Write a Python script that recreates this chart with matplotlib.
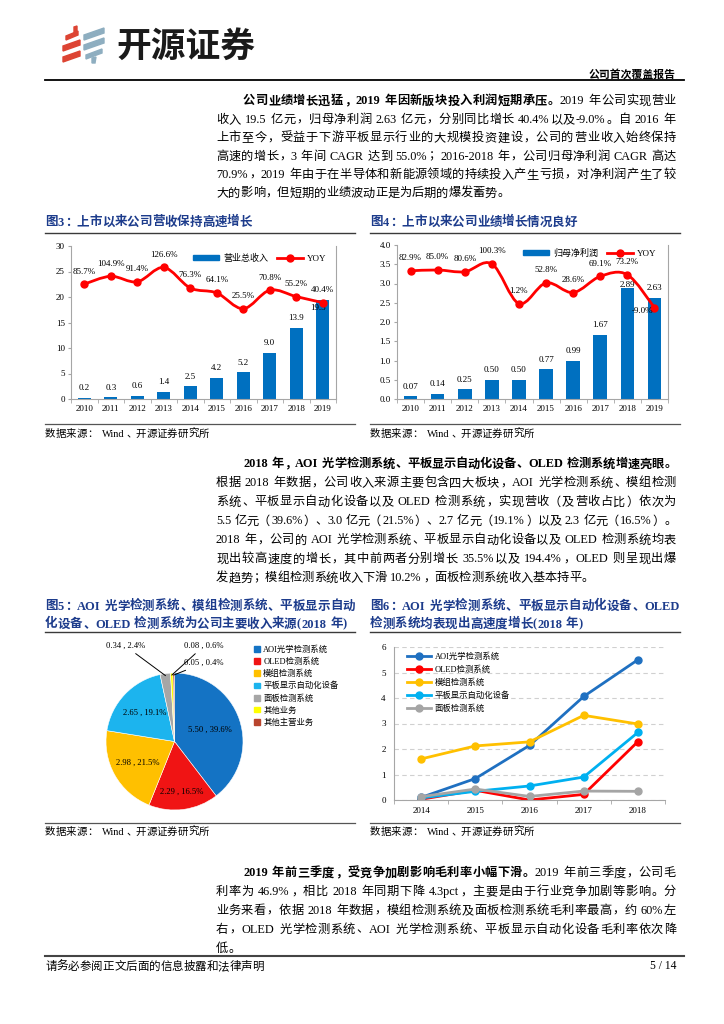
import re
import matplotlib
matplotlib.use("Agg")
import matplotlib.pyplot as plt
import numpy as np
from matplotlib.path import Path
from matplotlib.patches import PathPatch, Polygon, Patch
from matplotlib.lines import Line2D

W, H = 724, 1024
CJK = "Noto Sans CJK SC"
LAT = "Liberation Serif"
plt.rcParams["font.family"] = [LAT, CJK]
plt.rcParams["axes.unicode_minus"] = False

# ---------------------------------------------------------------------------
# Data
# ---------------------------------------------------------------------------
YEARS = ["2010", "2011", "2012", "2013", "2014", "2015", "2016", "2017", "2018", "2019"]
REVENUE = [0.2, 0.3, 0.6, 1.4, 2.5, 4.2, 5.2, 9.0, 13.9, 19.5]
REVENUE_YOY = [85.7, 104.9, 91.4, 126.6, 76.3, 64.1, 25.5, 70.8, 55.2, 40.4]
PROFIT = [0.07, 0.14, 0.25, 0.50, 0.50, 0.77, 0.99, 1.67, 2.89, 2.63]
PROFIT_YOY = [82.9, 85.0, 80.6, 100.3, 1.2, 52.8, 28.6, 69.1, 73.2, -9.0]

SEGMENTS = ["AOI光学检测系统", "OLED检测系统", "模组检测系统", "平板显示自动化设备",
            "面板检测系统", "其他业务", "其他主营业务"]
SEG_2018 = [5.50, 2.29, 2.98, 2.65, 0.34, 0.08, 0.05]
SEG_COLORS = ["#1473C4", "#F01414", "#FFC000", "#1CB4EE", "#A6A6A6", "#FFFF00", "#B8452E"]

LINE_YEARS = ["2014", "2015", "2016", "2017", "2018"]
AOI = [0.10, 0.84, 2.14, 4.06, 5.50]
OLED = [0.03, 0.38, 0.00, 0.22, 2.29]
MODULE = [1.61, 2.12, 2.28, 3.32, 2.98]
FPD = [0.08, 0.34, 0.55, 0.90, 2.65]
PANEL = [0.13, 0.43, 0.14, 0.35, 0.34]
LINE_SERIES = [AOI, OLED, MODULE, FPD, PANEL]
LINE_NAMES = ["AOI光学检测系统", "OLED检测系统", "模组检测系统", "平板显示自动化设备", "面板检测系统"]
LINE_COLORS = ["#1F70C1", "#FF0000", "#FFC000", "#00B0F0", "#A5A5A5"]

BAR = "#0070C0"
TITLE_BLUE = "#1D3C8C"
SPINE = "#A6A6A6"

fig = plt.figure(figsize=(W / 100, H / 100), dpi=100)
renderer = fig.canvas.get_renderer()


def fx(px):
    return px / W


def fy(py):
    return 1 - py / H


def px_axes(l, t, r, b):
    return fig.add_axes([fx(l), fy(b), (r - l) / W, (b - t) / H])


def hline(x0, x1, y, lw=1.0, color="#3A3A3A"):
    fig.add_artist(Line2D([fx(x0), fx(x1)], [fy(y), fy(y)], lw=lw, color=color,
                          transform=fig.transFigure))


TOKEN = re.compile(r"[A-Za-z0-9.%\-/]+|\s|.")
PUNCT_LEFT = set("，。、；：）")
PUNCT_RIGHT = set("（")


def text_line(segs, x0, x1, yc, size, justify=True, color="black", light=False):
    """Lay out one line of mixed CJK/latin text, optionally justified."""
    em = size * 100 / 72
    items = []
    for s, bold in segs:
        wt = "bold" if bold else "normal"
        cwt = "bold" if bold else ("light" if light else "normal")
        for m in TOKEN.finditer(s):
            tok = m.group()
            if tok.isspace():
                items.append((em * 0.25, None, tok))
            elif len(tok) == 1 and ord(tok) > 0x2000:
                t = fig.text(0, 0, tok, fontsize=size, family=CJK, fontweight=cwt,
                             color=color, va="baseline")
                items.append((em, t, tok))
            else:
                t = fig.text(0, 0, tok, fontsize=size, family=LAT, fontweight=wt,
                             color=color, va="baseline", ha="left")
                w = t.get_window_extent(renderer).width
                items.append((w + em * 0.05, t, tok))
    total = sum(w for w, _, _ in items)
    gap = (x1 - x0 - total) / (len(items) - 1) if justify and len(items) > 1 else 0
    x = x0
    yb = fy(yc + em * 0.36)
    for w, t, tok in items:
        if t is not None:
            if len(tok) == 1 and ord(tok) > 0x2000:
                if tok in PUNCT_LEFT:
                    t.set_ha("left")
                    t.set_position((fx(x + em * 0.05), yb))
                elif tok in PUNCT_RIGHT:
                    t.set_ha("right")
                    t.set_position((fx(x + w - em * 0.08), yb))
                else:
                    t.set_ha("center")
                    t.set_position((fx(x + w / 2), yb))
            else:
                t.set_position((fx(x), yb))
        x += w + gap


def paragraph(lines, y0, step, size=8.8, left=216, indent=243, right=676):
    for i, segs in enumerate(lines):
        x0 = indent if i == 0 else left
        last = i == len(lines) - 1
        text_line(segs, x0, right, y0 + i * step, size, justify=not last, light=True)


def smooth_path(xs, ys):
    pts = np.column_stack([xs, ys]).astype(float)
    n = len(pts)
    verts = [pts[0]]
    codes = [Path.MOVETO]
    for i in range(n - 1):
        p0 = pts[max(i - 1, 0)]
        p1 = pts[i]
        p2 = pts[i + 1]
        p3 = pts[min(i + 2, n - 1)]
        verts += [p1 + (p2 - p0) / 6, p2 - (p3 - p1) / 6, p2]
        codes += [Path.CURVE4] * 3
    return Path(verts, codes)


# ---------------------------------------------------------------------------
# Header
# ---------------------------------------------------------------------------
red_bars = [[(66, 36), (78, 31), (78, 35), (66, 40)],
            [(63, 46), (80, 40), (80, 45), (63, 51)],
            [(63, 57), (80, 51), (80, 56), (63, 62)],
            [(74, 27), (77, 26), (77, 33), (74, 34)]]
blue_bars = [[(84, 35), (104, 28), (104, 33), (84, 40)],
             [(84, 45), (104, 38), (104, 43), (84, 50)],
             [(86, 55), (102, 49), (102, 53), (86, 59)],
             [(92, 58), (96, 57), (95, 63), (92, 63)]]
for shape in red_bars:
    fig.add_artist(Polygon([(fx(a), fy(b)) for a, b in shape], closed=True,
                           color="#DD4433", transform=fig.transFigure))
for shape in blue_bars:
    fig.add_artist(Polygon([(fx(a), fy(b)) for a, b in shape], closed=True,
                           color="#8EAEC0", transform=fig.transFigure))
fig.text(fx(116), fy(46), "开源证券", family=CJK, fontsize=25, fontweight="heavy",
         color="#1A1A1A", ha="left", va="center")
fig.text(fx(676), fy(74), "公司首次覆盖报告", family=CJK, fontsize=7.8,
         fontweight="bold", ha="right", va="center")
hline(45, 684, 80, lw=1.3, color="black")

# ---------------------------------------------------------------------------
# Body text
# ---------------------------------------------------------------------------
paragraph([
    [("公司业绩增长迅猛，2019 年因新版块投入利润短期承压。", True), ("2019 年公司实现营业", False)],
    [("收入 19.5 亿元，归母净利润 2.63 亿元，分别同比增长 40.4%以及-9.0%。自 2016 年", False)],
    [("上市至今，受益于下游平板显示行业的大规模投资建设，公司的营业收入始终保持", False)],
    [("高速的增长，3 年间 CAGR 达到 55.0%；2016-2018 年，公司归母净利润 CAGR 高达", False)],
    [("70.9%，2019 年由于在半导体和新能源领域的持续投入产生亏损，对净利润产生了较", False)],
    [("大的影响，但短期的业绩波动正是为后期的爆发蓄势。", False)],
], 100, 18.4)

paragraph([
    [("2018 年，AOI 光学检测系统、平板显示自动化设备、OLED 检测系统增速亮眼。", True)],
    [("根据 2018 年数据，公司收入来源主要包含四大板块，AOI 光学检测系统、模组检测", False)],
    [("系统、平板显示自动化设备以及 OLED 检测系统，实现营收（及营收占比）依次为", False)],
    [("5.5 亿元（39.6%）、3.0 亿元（21.5%）、2.7 亿元（19.1%）以及 2.3 亿元（16.5%）。", False)],
    [("2018 年，公司的 AOI 光学检测系统、平板显示自动化设备以及 OLED 检测系统均表", False)],
    [("现出较高速度的增长，其中前两者分别增长 35.5%以及 194.4%，OLED 则呈现出爆", False)],
    [("发趋势；模组检测系统收入下滑 10.2%，面板检测系统收入基本持平。", False)],
], 463, 19.0)

paragraph([
    [("2019 年前三季度，受竞争加剧影响毛利率小幅下滑。", True), ("2019 年前三季度，公司毛", False)],
    [("利率为 46.9%，相比 2018 年同期下降 4.3pct，主要是由于行业竞争加剧等影响。分", False)],
    [("业务来看，依据 2018 年数据，模组检测系统及面板检测系统毛利率最高，约 60%左", False)],
    [("右，OLED 光学检测系统、AOI 光学检测系统、平板显示自动化设备毛利率依次降", False)],
    [("低。", False)],
], 872, 18.8)

# ---------------------------------------------------------------------------
# Figure titles / sources
# ---------------------------------------------------------------------------
text_line([("图3：上市以来公司营收保持高速增长", True)], 45, 355, 221, 9, False, TITLE_BLUE)
text_line([("图4：上市以来公司业绩增长情况良好", True)], 370, 680, 221, 9, False, TITLE_BLUE)
hline(45, 355, 233)
hline(370, 680, 233)
text_line([("图5：AOI 光学检测系统、模组检测系统、平板显示自动", True)], 45, 355, 605, 9, True, TITLE_BLUE)
text_line([("化设备、OLED 检测系统为公司主要收入来源(2018 年)", True)], 45, 355, 623, 9, False, TITLE_BLUE)
text_line([("图6：AOI 光学检测系统、平板显示自动化设备、OLED", True)], 370, 680, 605, 9, True, TITLE_BLUE)
text_line([("检测系统均表现出高速度增长(2018 年)", True)], 370, 680, 623, 9, False, TITLE_BLUE)
hline(45, 355, 632)
hline(370, 680, 632)

for x0, yl, ys in [(45, 424, 433), (370, 424, 433), (45, 823, 831), (370, 823, 831)]:
    hline(x0, x0 + 310, yl, lw=0.9, color="#555555")
    text_line([("数据来源：  Wind、开源证券研究所", False)], x0, x0 + 300, ys, 7.5, False)


# ---------------------------------------------------------------------------
# Bar + YOY charts
# ---------------------------------------------------------------------------
def bar_yoy_chart(box, values, yoy, ymax, ystep, yfmt, y2lim, legend_name, legend_xy,
                  bar_fmt, label_offsets):
    ax = px_axes(*box)
    x = np.arange(len(YEARS))
    ax.bar(x, values, 0.5, color=BAR, zorder=2)
    ax.set_xlim(-0.5, len(YEARS) - 0.5)
    ax.set_ylim(0, ymax)
    ticks = np.arange(0, ymax + ystep / 2, ystep)
    ax.set_yticks(ticks, [yfmt.format(t) for t in ticks])
    ax.set_xticks(x, YEARS)
    ax.set_xticks(np.arange(-0.5, len(YEARS), 1), minor=True)
    ax.tick_params(axis="y", labelsize=6.5, length=2.5, color=SPINE, pad=2)
    ax.tick_params(axis="x", which="major", labelsize=6.5, length=0, pad=4)
    ax.tick_params(axis="x", which="minor", length=3, color=SPINE)
    for side in ["left", "bottom", "right"]:
        ax.spines[side].set_color(SPINE)
        ax.spines[side].set_linewidth(0.8)
    ax.spines["top"].set_visible(False)

    for i, v in enumerate(values):
        dx, dy, ha, va = label_offsets.get(i, (0, 7, "center", "center"))
        ax.annotate(bar_fmt.format(v), (i, v), xytext=(dx, dy), textcoords="offset points",
                    ha=ha, va=va, fontsize=6.5, zorder=3)

    ax2 = ax.twinx()
    ax2.set_ylim(*y2lim)
    ax2.set_xlim(-0.5, len(YEARS) - 0.5)
    ax2.set_axis_off()
    ax2.add_patch(PathPatch(smooth_path(x, yoy), fill=False, ec="#FF0000", lw=2.0, zorder=4))
    ax2.plot(x, yoy, "o", color="#FF0000", ms=5, zorder=5)
    for i, v in enumerate(yoy):
        if v < 0:
            ax2.annotate(f"{v:.1f}%", (i, v), xytext=(-1, -2.5), textcoords="offset points",
                         ha="right", va="center", fontsize=6.5, zorder=6)
        else:
            ax2.annotate(f"{v:.1f}%", (i, v), xytext=(0, 9), textcoords="offset points",
                         ha="center", va="center", fontsize=6.5, zorder=6)

    handles = [Patch(color=BAR), Line2D([], [], color="#FF0000", marker="o", lw=2, ms=5)]
    ax.legend(handles, [legend_name, "YOY"], ncol=2, loc="center",
              bbox_to_anchor=(fx(legend_xy[0]), fy(legend_xy[1])),
              bbox_transform=fig.transFigure, frameon=False, fontsize=6.5,
              handlelength=2.8, handleheight=0.6, columnspacing=1.0, handletextpad=0.5)
    return ax


bar_yoy_chart((71, 246, 336, 399), REVENUE, REVENUE_YOY, 30, 5, "{:.0f}",
              (-195.5, 179), "营业总收入", (260, 258), "{:.1f}",
              {9: (2, -3.5, "right", "top")})
bar_yoy_chart((397, 245, 668, 399), PROFIT, PROFIT_YOY, 4.0, 0.5, "{:.1f}",
              (-237.3, 147.4), "归母净利润", (590, 253), "{:.2f}",
              {8: (0, 2, "center", "center")})

# ---------------------------------------------------------------------------
# Pie chart
# ---------------------------------------------------------------------------
axp = px_axes(106, 673, 243, 810)
wedges, _ = axp.pie(SEG_2018, colors=SEG_COLORS, startangle=90, counterclock=False,
                    radius=1, wedgeprops=dict(edgecolor="white", linewidth=0.4))
axp.set_xlim(-1, 1)
axp.set_ylim(-1, 1)
axp.set_axis_off()
total = sum(SEG_2018)
labels = [f"{v:.2f} , {v / total * 100:.1f}%" for v in SEG_2018]
inner_r = [0.55, 0.74, 0.62, 0.6]
for i in range(4):
    th = np.deg2rad((wedges[i].theta1 + wedges[i].theta2) / 2)
    axp.text(inner_r[i] * np.cos(th), inner_r[i] * np.sin(th), labels[i],
             ha="center", va="center", fontsize=6.2)


def to_pie(px, py):
    return ((px - 174.5) / 68.5, (741.5 - py) / 68.5)


outer = [(4, (145, 646), "right"), (5, (184, 646), "left"), (6, (184, 663), "left")]
for i, (tx, ty), ha in outer:
    th = np.deg2rad((wedges[i].theta1 + wedges[i].theta2) / 2)
    axp.annotate(labels[i], (0.97 * np.cos(th), 0.97 * np.sin(th)), xytext=to_pie(tx, ty),
                 textcoords="data", ha=ha, va="center", fontsize=6.2, annotation_clip=False,
                 arrowprops=dict(arrowstyle="-", color="black", lw=0.7, shrinkA=1, shrinkB=0))

fig.legend([Patch(color=c) for c in SEG_COLORS], SEGMENTS, loc="upper left",
           bbox_to_anchor=(fx(254), fy(645)), frameon=False, fontsize=6,
           handlelength=0.7, handleheight=0.7, handletextpad=0.4, labelspacing=0.45,
           borderpad=0, borderaxespad=0)

# ---------------------------------------------------------------------------
# Line chart
# ---------------------------------------------------------------------------
axl = px_axes(394, 647, 665, 800)
xl = np.arange(len(LINE_YEARS))
for vals, name, c in zip(LINE_SERIES, LINE_NAMES, LINE_COLORS):
    axl.plot(xl, vals, "-o", color=c, lw=2, ms=5, label=name)
axl.set_xlim(-0.5, len(LINE_YEARS) - 0.5)
axl.set_ylim(0, 6)
axl.set_yticks(range(0, 7))
axl.set_xticks(xl, LINE_YEARS)
axl.set_xticks(np.arange(-0.5, len(LINE_YEARS), 1), minor=True)
axl.tick_params(axis="y", labelsize=6.5, length=0, pad=6)
axl.tick_params(axis="x", which="major", labelsize=6.5, length=0, pad=5)
axl.tick_params(axis="x", which="minor", length=3, color=SPINE)
axl.grid(axis="y", color="#D0D0D0", ls=(0, (4, 3)), lw=0.8)
axl.set_axisbelow(True)
for side in ["left", "bottom"]:
    axl.spines[side].set_color(SPINE)
    axl.spines[side].set_linewidth(0.8)
for side in ["top", "right"]:
    axl.spines[side].set_visible(False)
axl.legend(loc="upper left", bbox_to_anchor=(fx(407), fy(652)),
           bbox_transform=fig.transFigure, frameon=False, fontsize=6,
           handlelength=2.9, handletextpad=0.4, labelspacing=0.55,
           borderpad=0, borderaxespad=0)

# ---------------------------------------------------------------------------
# Footer
# ---------------------------------------------------------------------------
hline(45, 684, 956, lw=1.5, color="#444444")
text_line([("请务必参阅正文后面的信息披露和法律声明", False)], 45, 400, 966, 8.3, False, light=True)
fig.text(fx(676), fy(966), "5 / 14", fontsize=8.3, family=LAT, ha="right", va="center")

fig.savefig("out.png", dpi=100)
